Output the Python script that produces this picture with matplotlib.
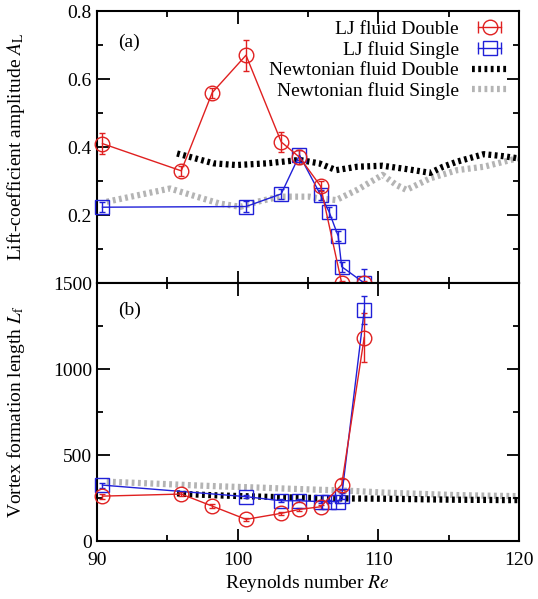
import matplotlib
matplotlib.use("Agg")
import matplotlib.pyplot as plt
from matplotlib.lines import Line2D
from matplotlib.legend_handler import HandlerLine2D, HandlerTuple

plt.rcParams['font.family'] = ['Liberation Serif', 'DejaVu Serif']
plt.rcParams['mathtext.fontset'] = 'stix'
plt.rcParams['font.size'] = 14

RED = '#e02020'
BLUE = '#2020d8'
GRAY = '#b4b4b4'

# LJ fluid, double cylinder
re_double = [90.4, 96.0, 98.2, 100.6, 103.1, 104.4, 105.9, 107.4, 109.0]
al_double = [0.41, 0.33, 0.56, 0.67, 0.415, 0.37, 0.285, 0.0, 0.0]
al_double_err = [0.03, 0.015, 0.015, 0.045, 0.03, 0.02, 0.015, 0.005, 0.005]
lf_double = [261, 273, 203, 126, 161, 184, 199, 328, 1183]
lf_double_err = [15, 10, 10, 10, 10, 10, 10, 30, 145]

# LJ fluid, single cylinder
re_single = [90.4, 100.6, 103.1, 104.4, 105.9, 106.5, 107.15, 107.4, 109.0]
al_single = [0.223, 0.225, 0.262, 0.376, 0.259, 0.21, 0.138, 0.048, 0.0]
al_single_err = [0.015, 0.015, 0.015, 0.015, 0.015, 0.015, 0.015, 0.015, 0.04]
lf_single = [325, 258, 234, 234, 229, 229, 229, 262, 1342]
lf_single_err = [15, 10, 10, 10, 10, 10, 10, 15, 80]

# Newtonian fluid, double
re_newt_d = [95.7, 96.6, 98.3, 99.9, 102.1, 104.4, 105.8, 107.0, 108.5, 110.3,
             112.2, 113.7, 114.6, 115.6, 117.5, 118.9, 119.9]
al_newt_d = [0.381, 0.371, 0.352, 0.347, 0.352, 0.362, 0.352, 0.332, 0.342, 0.345,
             0.334, 0.324, 0.342, 0.357, 0.379, 0.373, 0.367]
lf_newt_d = [277, 272, 266, 262, 257, 252, 250, 248, 247, 246,
             244, 242, 241, 240, 239, 238, 238]

# Newtonian fluid, single
re_newt_s = [90.7, 95.2, 97.1, 98.7, 100.2, 101.4, 103.0, 105.1, 105.8, 107.0,
             108.5, 110.3, 111.3, 112.0, 113.7, 115.6, 117.5, 119.9]
al_newt_s = [0.239, 0.278, 0.254, 0.234, 0.224, 0.239, 0.254, 0.254, 0.249, 0.244,
             0.274, 0.318, 0.288, 0.274, 0.308, 0.332, 0.342, 0.367]
lf_newt_s = [345, 330, 323, 318, 314, 311, 306, 300, 298, 295,
             290, 282, 279, 277, 272, 267, 264, 261]

fig = plt.figure(figsize=(5.38, 5.99), dpi=100)
ax1 = fig.add_axes([0.180, 0.5275, 0.7847, 0.4541])
ax2 = fig.add_axes([0.180, 0.0968, 0.7847, 0.4307])

dot = (0, (0.45, 0.55))


def draw(ax, y_d, e_d, y_s, e_s, y_nd, y_ns):
    ax.plot(re_newt_d, y_nd, color='black', lw=4.5, ls=dot, zorder=2)
    ax.plot(re_newt_s, y_ns, color=GRAY, lw=4.5, ls=dot, zorder=1)
    for x, y, e, c, m, ms in [(re_single, y_s, e_s, BLUE, 's', 9.5),
                              (re_double, y_d, e_d, RED, 'o', 10.5)]:
        cont = ax.errorbar(x, y, yerr=e, color=c, marker=m, ms=ms, mfc='none',
                           mec=c, mew=1.0, lw=1.0, elinewidth=1.0, capsize=2.5,
                           zorder=3)
        for art in cont.get_children():
            art.set_clip_on(False)


draw(ax1, al_double, al_double_err, al_single, al_single_err, al_newt_d, al_newt_s)
draw(ax2, lf_double, lf_double_err, lf_single, lf_single_err, lf_newt_d, lf_newt_s)

ax1.set_xlim(90, 120)
ax2.set_xlim(90, 120)
ax1.set_ylim(0, 0.8)
ax2.set_ylim(0, 1500)

ax1.set_yticks([0, 0.2, 0.4, 0.6, 0.8])
ax1.set_yticklabels(['', '0.2', '0.4', '0.6', '0.8'])
ax1.set_yticks([0.1, 0.3, 0.5, 0.7], minor=True)
ax2.set_yticks([0, 500, 1000, 1500])
ax2.set_yticks([250, 750, 1250], minor=True)
for ax in (ax1, ax2):
    ax.set_xticks([90, 100, 110, 120])
    ax.set_xticks([95, 105, 115], minor=True)
    ax.tick_params(which='both', direction='in', top=True, right=True, width=1.3)
    ax.tick_params(which='major', length=9, labelsize=14)
    ax.tick_params(which='minor', length=4.5)
    for sp in ax.spines.values():
        sp.set_linewidth(1.5)
ax1.tick_params(axis='x', labelbottom=False)
ax2.tick_params(axis='x', pad=8)

ax1.set_ylabel(r'Lift-coefficient amplitude $A_\mathrm{L}$', fontsize=14)
ax2.set_ylabel(r'Vortex formation length $L_\mathrm{f}$', fontsize=14)
ax1.yaxis.set_label_coords(-0.165, 0.5)
ax2.yaxis.set_label_coords(-0.165, 0.5)
ax2.set_xlabel(r'Reynolds number $Re$', fontsize=14, labelpad=3)

ax1.text(0.05, 0.886, '(a)', transform=ax1.transAxes, va='center', fontsize=14)
ax2.text(0.05, 0.895, '(b)', transform=ax2.transAxes, va='center', fontsize=14)

# legend handles styled like gnuplot error bars
cap_d = Line2D([], [], color=RED, lw=1.0, marker='|', ms=8, mew=1.0)
mark_d = Line2D([], [], color=RED, ls='none', marker='o', ms=10.5, mfc='none', mew=1.0)
cap_s = Line2D([], [], color=BLUE, lw=1.0, marker='|', ms=8, mew=1.0)
mark_s = Line2D([], [], color=BLUE, ls='none', marker='s', ms=9.5, mfc='none', mew=1.0)
h_nd = Line2D([], [], color='black', lw=4.5, ls=dot)
h_ns = Line2D([], [], color=GRAY, lw=4.5, ls=dot)

hmap = {cap_d: HandlerLine2D(numpoints=2), cap_s: HandlerLine2D(numpoints=2),
        mark_d: HandlerLine2D(numpoints=1), mark_s: HandlerLine2D(numpoints=1),
        tuple: HandlerTuple(ndivide=1)}
leg = ax1.legend([(cap_d, mark_d), (cap_s, mark_s), h_nd, h_ns],
                 ['LJ fluid Double', 'LJ fluid Single',
                  'Newtonian fluid Double', 'Newtonian fluid Single'],
                 handler_map=hmap, loc='upper right', bbox_to_anchor=(0.972, 0.965),
                 frameon=False, markerfirst=False, fontsize=14, borderpad=0,
                 borderaxespad=0, labelspacing=0.15, handlelength=1.8,
                 handletextpad=0.7)

fig.savefig('out.png', dpi=100)
